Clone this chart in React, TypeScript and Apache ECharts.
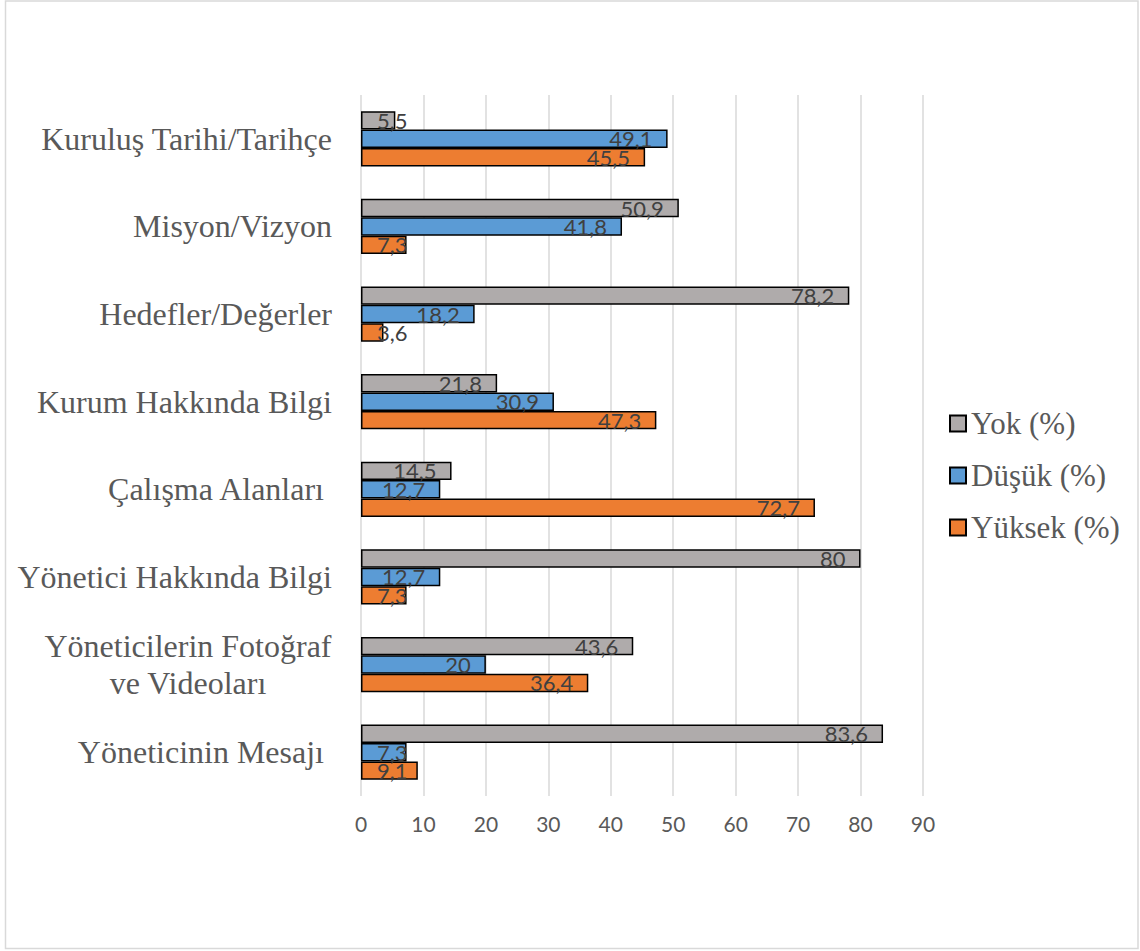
import React, { useEffect, useRef } from "react";
import * as echarts from "echarts";

const categories = [
  "Kuruluş Tarihi/Tarihçe",
  "Misyon/Vizyon",
  "Hedefler/Değerler",
  "Kurum Hakkında Bilgi",
  "Çalışma Alanları ",
  "Yönetici Hakkında Bilgi",
  "Yöneticilerin Fotoğraf\nve Videoları",
  "Yöneticinin Mesajı ",
];
const seriesNames = ["Yok (%)", "Düşük (%)", "Yüksek (%)"];
const yok = [5.5, 50.9, 78.2, 21.8, 14.5, 80, 43.6, 83.6];
const dusuk = [49.1, 41.8, 18.2, 30.9, 12.7, 12.7, 20, 7.3];
const yuksek = [45.5, 7.3, 3.6, 47.3, 72.7, 7.3, 36.4, 9.1];
const xTicks = { min: 0, max: 90, interval: 10 };

const colors = ["#AFABAB", "#5B9BD5", "#ED7D31"];

export default function App() {
  const ref = useRef<HTMLDivElement>(null);
  useEffect(() => {
    const chart = echarts.init(ref.current!, null, { renderer: "svg" });
    const mk = (name: string, vals: number[], color: string) => ({
      name,
      type: "bar",
      barGap: "0%",
      barCategoryGap: "37%",
      itemStyle: { color, borderColor: "#000", borderWidth: 1.5 },
      label: {
        show: true,
        position: "insideRight",
        distance: 15,
        fontFamily: "Lato",
        fontSize: 22,
        color: "#404040",
        formatter: (p: any) => String(p.value).replace(".", ","),
      },
      data: vals.map((v) =>
        v < 10
          ? { value: v, label: { position: "insideLeft", distance: 16 } }
          : { value: v }
      ),
    });
    chart.setOption({
      animation: false,
      backgroundColor: "#fff",
      grid: { left: 361, top: 95, width: 562, height: 701, containLabel: false },
      xAxis: {
        type: "value",
        min: xTicks.min,
        max: xTicks.max,
        interval: xTicks.interval,
        axisLine: { show: false },
        axisTick: { show: false },
        axisLabel: {
          fontFamily: "Lato",
          fontSize: 21,
          color: "#595959",
          margin: 17,
        },
        splitLine: { show: true, lineStyle: { color: "#d9d9d9", width: 1.5 } },
      },
      yAxis: {
        type: "category",
        inverse: true,
        data: categories,
        axisLine: { show: false },
        axisTick: { show: false },
        axisLabel: {
          margin: 29,
          fontFamily: "Liberation Serif",
          fontSize: 32,
          color: "#595959",
          lineHeight: 37,
          formatter: (v: string) =>
            v.includes("\n")
              ? v
                  .split("\n")
                  .map((s) => `{c|${s}}`)
                  .join("\n")
              : v,
          rich: {
            c: {
              width: 288,
              align: "center",
              fontFamily: "Liberation Serif",
              fontSize: 32,
              color: "#595959",
              lineHeight: 37,
            },
          },
        },
      },
      legend: {
        orient: "vertical",
        left: 944,
        top: 403,
        itemWidth: 16,
        itemHeight: 16,
        itemGap: 21,
        icon: "rect",
        data: seriesNames,
        textStyle: {
          fontFamily: "Liberation Serif",
          fontSize: 31,
          color: "#595959",
          padding: [0, 0, 0, 0],
        },
      },
      graphic: [
        {
          type: "rect",
          shape: { x: 5.5, y: 1, width: 1132.5, height: 947.5 },
          style: { fill: "none", stroke: "#d9d9d9", lineWidth: 1.5 },
          silent: true,
        },
      ],
      series: [
        mk(seriesNames[0], yok, colors[0]),
        mk(seriesNames[1], dusuk, colors[1]),
        mk(seriesNames[2], yuksek, colors[2]),
      ],
    });
    return () => chart.dispose();
  }, []);
  return (
    <div
      ref={ref}
      style={{ position: "absolute", left: 0, top: 0, width: 1140, height: 951 }}
    />
  );
}
